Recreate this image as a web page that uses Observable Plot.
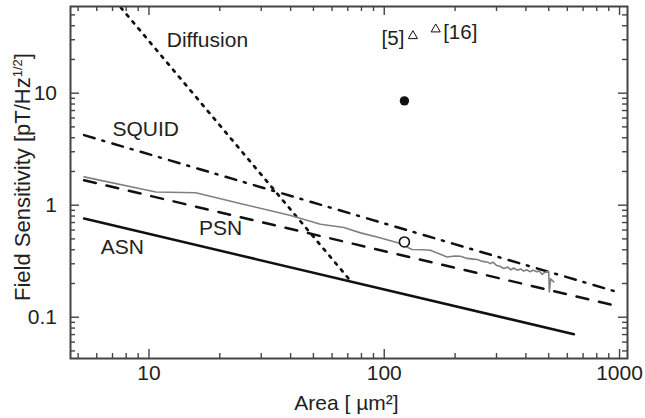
<!DOCTYPE html>
<html><head><meta charset="utf-8">
<script src="https://cdn.jsdelivr.net/npm/d3@7"></script>
<script src="https://cdn.jsdelivr.net/npm/@observablehq/plot@0.6"></script>
<style>
body{margin:0;background:#fff;}
svg{font-family:"Liberation Sans",Arial,Helvetica,sans-serif;}
</style></head><body><div id="chart"></div>
<script>
// ---- data ----
const asnArea = [5.3, 640];
const asnValue = [0.76, 0.0705];
const psnArea = [5.3, 942];
const psnValue = [1.67, 0.128];
const squidArea = [5.3, 960];
const squidValue = [4.22, 0.17];
const diffArea = [7.6, 71.5];
const diffValue = [58, 0.214];
const measArea = [5.3,10.7,15.8,26.2,40,53.6,67.4,79.3,93.3,117,131,145,157,170,185,200,211,225,240,248,262,275,282,290,300,310,322,335,345,355,367,380,392,404,415,430,446,455,468,480,490,500,503,510,517,525];
const measValue = [1.79,1.31,1.29,1.0,0.81,0.676,0.632,0.566,0.521,0.455,0.402,0.40,0.396,0.37,0.345,0.352,0.35,0.335,0.33,0.327,0.315,0.31,0.301,0.31,0.29,0.285,0.272,0.28,0.265,0.275,0.263,0.27,0.258,0.265,0.255,0.262,0.254,0.26,0.242,0.25,0.255,0.254,0.168,0.22,0.214,0.207];
const openArea = [121.8];
const openValue = [0.47];
const filledArea = [121.8];
const filledValue = [8.54];
const triArea = [132.4, 165.5];
const triValue = [32.4, 37.2];
const lineLabels = ["Diffusion", "SQUID", "PSN", "ASN"];
const lineLabelArea = [11.9, 7.0, 16.3, 6.24];
const lineLabelValue = [29.5, 4.74, 0.623, 0.425];
const refLabels = ["[5]", "[16]"];
const refArea = [121.8, 178];
const refValue = [30.6, 35.1];
const xMajor = [10, 100, 1000];
const xMinor = [5,6,7,8,9,20,30,40,50,60,70,80,90,200,300,400,500,600,700,800,900];
const yMajor = [0.1, 1, 10];
const yMinor = [0.05,0.06,0.07,0.08,0.09,0.2,0.3,0.4,0.5,0.6,0.7,0.8,0.9,2,3,4,5,6,7,8,9,20,30,40,50];
const xTitle = "Area [ µm²]";
const yTitle = "Field Sensitivity [pT/Hz";
const yTitleSup = "1/2";

// ---- layout ----
const W = 645, H = 418, mL = 70, mR = 18, mT = 6, mB = 60;
const pw = W - mL - mR, ph = H - mT - mB;
const tbl = (a, v) => a.map((x, i) => ({a: x, v: v[i]}));
const ink = "#111", frameInk = "#444";

const plot = Plot.plot({
  width: W, height: H,
  marginLeft: mL, marginRight: mR, marginTop: mT, marginBottom: mB,
  style: {fontFamily: "Liberation Sans, Arial, Helvetica, sans-serif", background: "white", color: "#222"},
  x: {type: "log", domain: [4.64, 1081]},
  y: {type: "log", domain: [0.0428, 59.4]},
  marks: [
    // inward ticks on all four sides
    Plot.tickX(xMinor, {x: d => d, insetTop: ph - 5, stroke: frameInk, strokeWidth: 1.4}),
    Plot.tickX(xMajor, {x: d => d, insetTop: ph - 9, stroke: frameInk, strokeWidth: 1.4}),
    Plot.tickX(xMinor, {x: d => d, insetBottom: ph - 5, stroke: frameInk, strokeWidth: 1.4}),
    Plot.tickX(xMajor, {x: d => d, insetBottom: ph - 9, stroke: frameInk, strokeWidth: 1.4}),
    Plot.tickY(yMinor, {y: d => d, insetRight: pw - 5, stroke: frameInk, strokeWidth: 1.4}),
    Plot.tickY(yMajor, {y: d => d, insetRight: pw - 9, stroke: frameInk, strokeWidth: 1.4}),
    Plot.tickY(yMinor, {y: d => d, insetLeft: pw - 5, stroke: frameInk, strokeWidth: 1.4}),
    Plot.tickY(yMajor, {y: d => d, insetLeft: pw - 9, stroke: frameInk, strokeWidth: 1.4}),
    Plot.axisX({ticks: xMajor, tickSize: 0, tickPadding: 7, fontSize: 21, tickFormat: d => String(d), label: null, color: "#222"}),
    Plot.axisY({ticks: yMajor, tickSize: 0, tickPadding: 13.5, fontSize: 21, tickFormat: d => String(d), label: null, color: "#222"}),
    // model lines
    Plot.line(tbl(diffArea, diffValue), {x: "a", y: "v", stroke: ink, strokeWidth: 2.7, strokeDasharray: "2.5 6.5"}),
    Plot.line(tbl(squidArea, squidValue), {x: "a", y: "v", stroke: ink, strokeWidth: 2.5, strokeDasharray: "11 8 2 8.5"}),
    Plot.line(tbl(psnArea, psnValue), {x: "a", y: "v", stroke: ink, strokeWidth: 2.5, strokeDasharray: "12 11"}),
    Plot.line(tbl(asnArea, asnValue), {x: "a", y: "v", stroke: ink, strokeWidth: 2.5}),
    Plot.line(tbl(measArea, measValue), {x: "a", y: "v", stroke: "#808080", strokeWidth: 1.6}),
    // points
    Plot.dot(tbl(openArea, openValue), {x: "a", y: "v", r: 5, stroke: ink, strokeWidth: 1.6, fill: "white"}),
    Plot.dot(tbl(filledArea, filledValue), {x: "a", y: "v", r: 4.7, fill: ink, stroke: "none"}),
    Plot.dot(tbl(triArea, triValue), {x: "a", y: "v", symbol: "triangle", r: 3.4, stroke: ink, strokeWidth: 1, fill: "none"}),
    // labels
    Plot.text(lineLabels.map((t, i) => ({t, a: lineLabelArea[i], v: lineLabelValue[i]})), {x: "a", y: "v", text: "t", textAnchor: "start", lineAnchor: "middle", fontSize: 21, fill: "#222"}),
    Plot.text([{t: refLabels[0], a: refArea[0], v: refValue[0]}], {x: "a", y: "v", text: "t", textAnchor: "end", lineAnchor: "middle", fontSize: 20.5, fill: "#222"}),
    Plot.text([{t: refLabels[1], a: refArea[1], v: refValue[1]}], {x: "a", y: "v", text: "t", textAnchor: "start", lineAnchor: "middle", fontSize: 20.5, fill: "#222"}),
    Plot.frame({stroke: frameInk, strokeWidth: 2})
  ]
});

const svg = d3.select(plot);
svg.append("text")
  .attr("x", 346.5).attr("y", 410)
  .attr("text-anchor", "middle").attr("font-size", 21).attr("fill", "#222")
  .text(xTitle);
const yt = svg.append("text")
  .attr("transform", "translate(29.5,177) rotate(-90)")
  .attr("text-anchor", "middle").attr("font-size", 22).attr("fill", "#222");
yt.append("tspan").text(yTitle);
yt.append("tspan").attr("font-size", 13).attr("dy", -8).text(yTitleSup);
yt.append("tspan").attr("dy", 8).text("]");

document.getElementById("chart").appendChild(plot);
</script></body></html>
